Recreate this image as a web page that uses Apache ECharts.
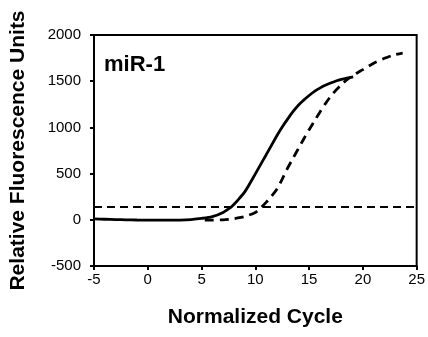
<!DOCTYPE html>
<html><head><meta charset="utf-8">
<script src="https://cdn.jsdelivr.net/npm/echarts@6/dist/echarts.min.js"></script>
<style>html,body{margin:0;padding:0;background:#fff}#c{width:428px;height:337px}</style>
</head><body><div id="c"></div>
<script>
var solidX = [-5,-4,-3,-2,-1,0,1,2,3,4,5,6,7,7.75,8,8.5,9,9.5,10,10.5,11,11.5,12,12.5,13,13.5,14,14.5,15,15.5,16,16.5,17,17.5,18,18.5,19.1];
var solidY = [10,6,2,0,-2,-3,-4,-4,-3,3,15,35,80,138,165,230,300,395,497,600,702,806,910,1005,1090,1170,1240,1295,1345,1390,1425,1455,1480,1502,1520,1534,1548];
var dashX = [5.3,6,7,8,8.67,9,10,10.5,11,11.5,12,12.5,13,13.5,14,14.5,15,15.5,16,16.5,17,17.5,18,18.5,19,19.5,20,21,22,23,23.7];
var dashY = [-2,-3,0,12,25,35,80,128,188,255,330,440,560,665,770,875,975,1070,1165,1255,1335,1403,1462,1515,1555,1592,1625,1695,1748,1788,1805];
var thresholdX = [-5,25];
var thresholdY = 138;
var xTicks = {min:-5,max:25,interval:5};
var yTicks = {min:-500,max:2000,interval:500};
var label = "miR-1";

function pairs(xs, ys){ return xs.map(function(x,i){ return [x, Array.isArray(ys)?ys[i]:ys]; }); }

var chart = echarts.init(document.getElementById('c'));
var font = '"Liberation Sans", Arial, sans-serif';
chart.setOption({
  animation:false,
  grid:{left:91,right:10,top:35,bottom:71,show:true,borderColor:'#000',borderWidth:2,backgroundColor:'transparent'},
  xAxis:{type:'value',min:xTicks.min,max:xTicks.max,interval:xTicks.interval,
    name:'Normalized Cycle',nameLocation:'middle',nameGap:41,
    nameTextStyle:{fontFamily:font,fontSize:21,fontWeight:'bold',color:'#000'},
    axisLine:{onZero:false,lineStyle:{color:'#000',width:2}},
    axisTick:{inside:false,length:4,lineStyle:{color:'#000',width:2}},
    axisLabel:{fontFamily:font,fontSize:15,color:'#000',margin:6,formatter:function(v){return String(v);}},
    splitLine:{show:false}},
  yAxis:{type:'value',min:yTicks.min,max:yTicks.max,interval:yTicks.interval,
    name:'Relative Fluorescence Units',nameLocation:'middle',nameGap:65,
    nameTextStyle:{fontFamily:font,fontSize:21,fontWeight:'bold',color:'#000'},
    axisLine:{onZero:false,lineStyle:{color:'#000',width:2}},
    axisTick:{inside:false,length:4,lineStyle:{color:'#000',width:2}},
    axisLabel:{fontFamily:font,fontSize:15,color:'#000',margin:13,formatter:function(v){return String(v);}},
    splitLine:{show:false}},
  graphic:[{type:'text',left:104,top:54,style:{text:label,fontFamily:font,fontSize:22,fontWeight:'bold',fill:'#000'}}],
  series:[
    {type:'line',data:pairs(thresholdX,thresholdY),symbol:'none',lineStyle:{color:'#000',width:2,type:[8,5]},silent:true},
    {type:'line',data:pairs(dashX,dashY),symbol:'none',smooth:0.3,lineStyle:{color:'#000',width:2.8,type:[9,6]},silent:true},
    {type:'line',data:pairs(solidX,solidY),symbol:'none',smooth:0.3,lineStyle:{color:'#000',width:2.8},silent:true}
  ]
});
</script></body></html>
